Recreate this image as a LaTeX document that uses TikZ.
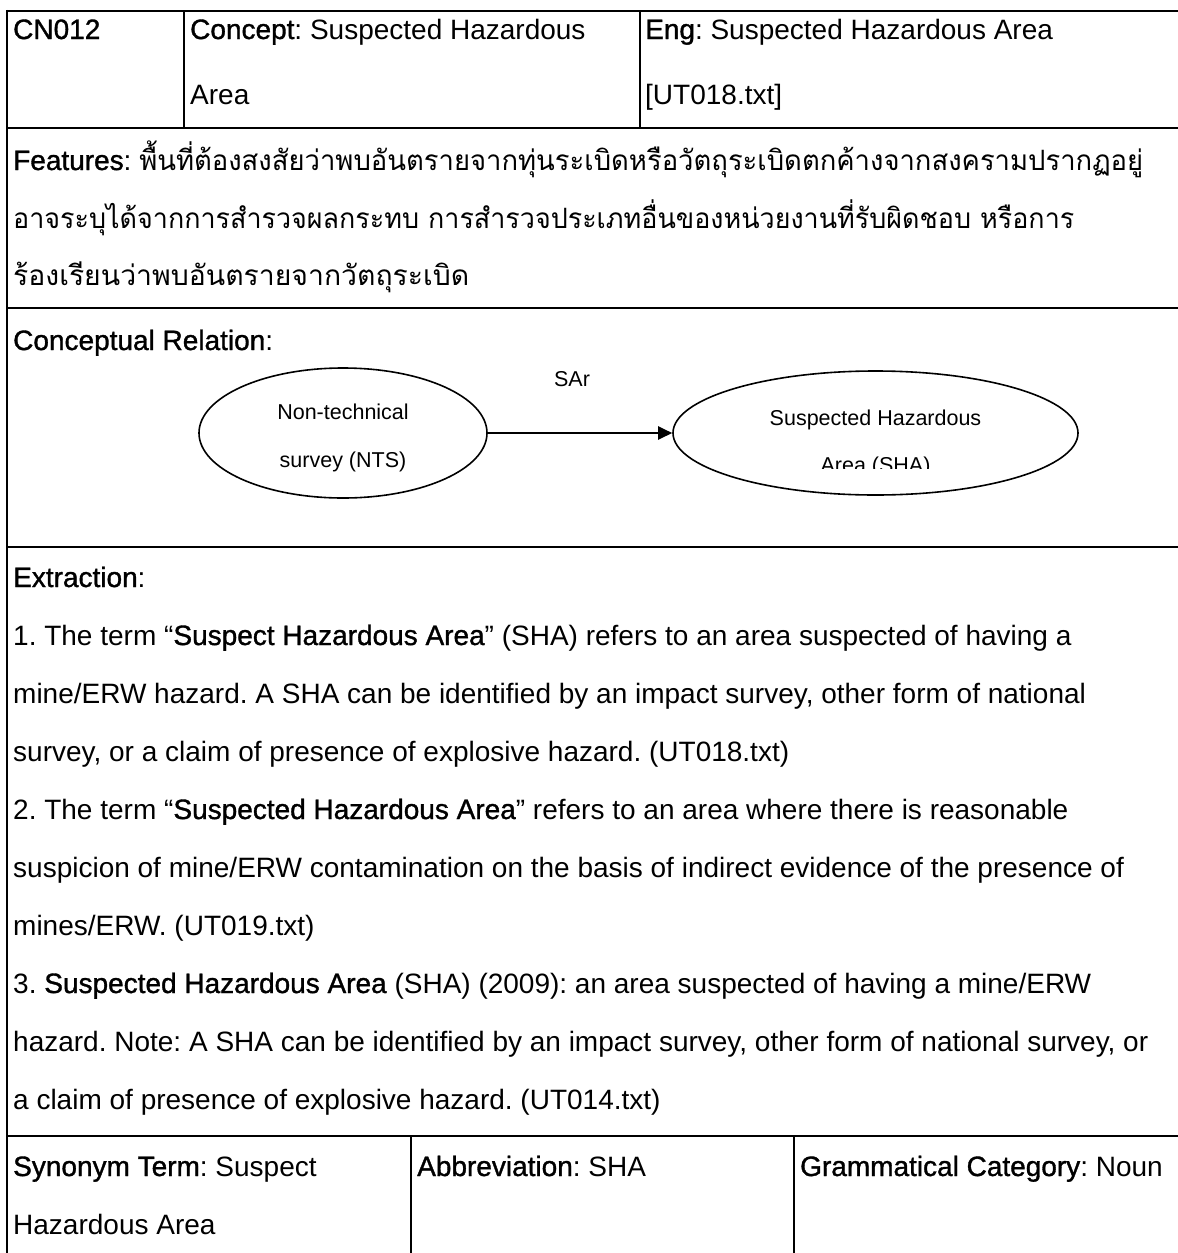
\documentclass[tikz,border=0pt]{standalone}
\usepackage{graphicx}
\usepackage{fontspec}
\setmainfont{Liberation Sans}
\newfontfamily\thaifont[Script=Thai]{Loma}
\newfontface\lblface{Liberation Sans}[FakeBold=1.2]
\usetikzlibrary{arrows.meta,shapes.geometric}
\newcommand{\lbl}[1]{{\lblface #1}}
% Thai line stretched horizontally to a given width
\newcommand{\thaiw}[2]{\resizebox{#1}{\height}{\thaifont #2}}
\frenchspacing

\begin{document}
\begin{tikzpicture}[x=1pt,y=-1pt,
  hrule/.style={line width=2.5pt},
  vrule/.style={line width=1.5pt},
  txt/.style={anchor=base west,inner sep=0pt,font=\fontsize{28}{32}\selectfont},
  small/.style={anchor=base,inner sep=0pt,font=\fontsize{21.5}{25}\selectfont},
  concept/.style={draw,ellipse,line width=1.6pt,inner sep=0pt},
  rel/.style={line width=2.3pt,-{Triangle[length=14pt,width=13pt]}}]

\useasboundingbox (0,0) rectangle (1178,1253);

% ---- table frame ----
\draw[hrule] (7,11) -- (1190,11);
\draw[hrule] (7,128) -- (1190,128);
\draw[hrule] (7,308) -- (1190,308);
\draw[hrule] (7,547) -- (1190,547);
\draw[hrule] (7,1136) -- (1190,1136);
\draw[line width=2pt] (7,9.75) -- (7,1260);
\draw[vrule] (184,11) -- (184,128);
\draw[vrule] (640,11) -- (640,128);
\draw[vrule] (411,1136) -- (411,1260);
\draw[vrule] (794,1136) -- (794,1260);

% ---- header row ----
\node[txt] (id) at (13,39) {\lbl{CN012}};
\node[txt] (con1) at (190,39) {\lbl{Concept}: Suspected Hazardous};
\node[txt] (con2) at (190,104) {Area};
\node[txt] (eng1) at (645,39) {\lbl{Eng}: Suspected Hazardous Area};
\node[txt] (eng2) at (645,104) {[UT018.txt]};

% ---- features ----
\node[txt] (feat1) at (13,170) {\lbl{Features}: \thaiw{1004pt}{พื้นที่ต้องสงสัยว่าพบอันตรายจากทุ่นระเบิดหรือวัตถุระเบิดตกค้างจากสงครามปรากฏอยู่}};
\node[txt] (feat2) at (13,228) {\thaiw{1061pt}{อาจระบุได้จากการสำรวจผลกระทบ การสำรวจประเภทอื่นของหน่วยงานที่รับผิดชอบ หรือการ}};
\node[txt] (feat3) at (13,285) {\thaiw{456pt}{ร้องเรียนว่าพบอันตรายจากวัตถุระเบิด}};

% ---- conceptual relation ----
\node[txt] (crel) at (13,350) {\lbl{Conceptual Relation}:};
\node[concept,minimum width=288pt,minimum height=130pt] (nts) at (343,433) {};
\node[concept,minimum width=405pt,minimum height=124pt] (sha) at (875.5,433) {};
\draw[rel] (nts.east) -- (sha.west);
\node[small] (sar) at (572,386) {SAr};
\node[small] (nts1) at (343,419) {Non-technical};
\node[small] (nts2) at (343,467) {survey (NTS)};
\node[small] (sha1) at (875.5,425) {Suspected Hazardous};
\begin{scope}
  \clip (740,440) rectangle (1010,468);
  \node[small] (sha2) at (875.5,472) {Area (SHA)};
\end{scope}

% ---- extraction ----
\node[txt] (ext) at (13,587) {\lbl{Extraction}:};
\node[txt] (ex1) at (13,645) {1. The term “\lbl{Suspect Hazardous Area}” (SHA) refers to an area suspected of having a};
\node[txt] (ex2) at (13,703) {mine/ERW hazard. A SHA can be identified by an impact survey, other form of national};
\node[txt] (ex3) at (13,761) {survey, or a claim of presence of explosive hazard. (UT018.txt)};
\node[txt] (ex4) at (13,819) {2. The term “\lbl{Suspected Hazardous Area}” refers to an area where there is reasonable};
\node[txt] (ex5) at (13,877) {suspicion of mine/ERW contamination on the basis of indirect evidence of the presence of};
\node[txt] (ex6) at (13,935) {mines/ERW. (UT019.txt)};
\node[txt] (ex7) at (13,993) {3. \lbl{Suspected Hazardous Area} (SHA) (2009): an area suspected of having a mine/ERW};
\node[txt] (ex8) at (13,1051) {hazard. Note: A SHA can be identified by an impact survey, other form of national survey, or};
\node[txt] (ex9) at (13,1109) {a claim of presence of explosive hazard. (UT014.txt)};

% ---- bottom row ----
\node[txt] (syn1) at (13,1176) {\lbl{Synonym Term}: Suspect};
\node[txt] (syn2) at (13,1234) {Hazardous Area};
\node[txt] (abbr) at (417,1176) {\lbl{Abbreviation}: SHA};
\node[txt] (gram) at (800,1176) {\lbl{Grammatical Category}: Noun};
\end{tikzpicture}
\end{document}
